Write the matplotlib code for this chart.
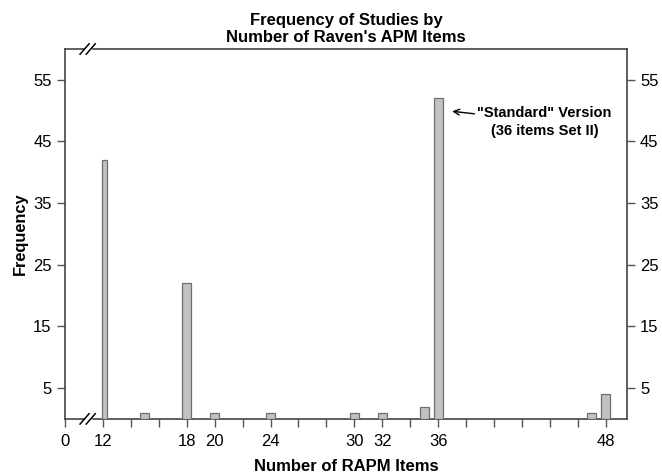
import matplotlib.pyplot as plt
import numpy as np

plt.rcParams['font.family'] = ['Liberation Sans', 'DejaVu Sans']

items = [12, 15, 18, 20, 24, 30, 32, 35, 36, 47, 48]
counts = [42, 1, 22, 1, 1, 1, 1, 2, 52, 1, 4]

xtick_major = [0, 12, 18, 20, 24, 30, 32, 36, 48]
xtick_all = [0] + list(range(12, 49, 2))
yticks = [5, 15, 25, 35, 45, 55]

# broken x axis: 0..12 squeezed into a short stretch
K = 0.226


def fwd(v):
    v = np.asarray(v, dtype=float)
    return np.where(v < 12, 12 - (12 - v) * K, v)


def inv(u):
    u = np.asarray(u, dtype=float)
    return np.where(u < 12, 12 - (12 - u) / K, u)


fig = plt.figure(figsize=(6.62, 4.76), dpi=100)
ax = fig.add_axes([0.098, 0.12, 0.849, 0.777])
ax.set_xscale('function', functions=(fwd, inv))

ax.bar(items, counts, width=0.64, color='#c2c2c2', edgecolor='#6e6e6e',
       linewidth=0.9, zorder=3)

ax.set_xlim(0, 49.5)
ax.set_ylim(0, 60)
ax.set_xticks(xtick_all)
ax.set_xticklabels([str(t) if t in xtick_major else '' for t in xtick_all],
                   fontsize=12)
ax.set_yticks(yticks)
ax.set_yticklabels([str(t) for t in yticks], fontsize=12)
ax.tick_params(direction='out', length=6, width=1, color='#555555')
ax.tick_params(axis='x', pad=5)

for s in ax.spines.values():
    s.set_color('#444444')
    s.set_linewidth(1.2)

ax2 = ax.twinx()
ax2.set_ylim(0, 60)
ax2.set_yticks(yticks)
ax2.set_yticklabels([str(t) for t in yticks], fontsize=12)
ax2.tick_params(direction='out', length=6, width=1, color='#555555')
for s in ax2.spines.values():
    s.set_visible(False)

ax.set_xlabel('Number of RAPM Items', fontsize=12, fontweight='bold', labelpad=7)
ax.set_ylabel('Frequency', fontsize=11.8, fontweight='bold', labelpad=4)
ax.set_title("Frequency of Studies by\nNumber of Raven's APM Items",
             fontsize=12, fontweight='bold', pad=5)

# axis break marks
for xb in [0.035, 0.046]:
    for yb in [1.0, 0.0]:
        ax.plot([xb - 0.008, xb + 0.008], [yb - 0.014, yb + 0.014],
                transform=ax.transAxes, color='black', lw=1.1, clip_on=False,
                zorder=5)
for yb in [1.0, 0.0]:
    ax.plot([0.037, 0.044], [yb, yb], transform=ax.transAxes, color='white',
            lw=2.5, clip_on=False, zorder=4)

ax.annotate('"Standard" Version\n(36 items Set II)', xy=(37.0, 49.9),
            xytext=(43.6, 48.2), ha='center', va='center', fontsize=10.5,
            fontweight='bold', linespacing=1.35,
            arrowprops=dict(arrowstyle='->', color='black', lw=1,
                            shrinkA=0, shrinkB=0, relpos=(0.0, 0.74)))

fig.savefig('out.png', dpi=100)
